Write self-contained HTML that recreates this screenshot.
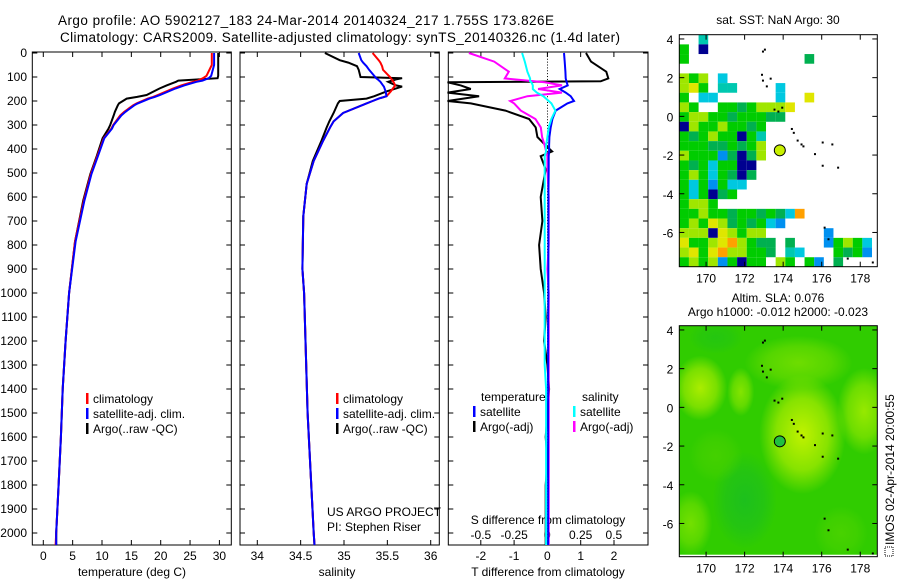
<!DOCTYPE html>
<html><head><meta charset="utf-8"><style>
body{margin:0;background:#fff}
svg{display:block;font-family:"Liberation Sans",sans-serif}
text{fill:#000}
</style></head><body>
<svg id="fig" width="900" height="580" viewBox="0 0 900 580" xmlns="http://www.w3.org/2000/svg">
<text x="58" y="25" font-size="13.5" textLength="496">Argo profile: AO 5902127_183 24-Mar-2014 20140324_217 1.755S 173.826E</text>
<text x="60" y="42" font-size="13.5" textLength="560">Climatology: CARS2009. Satellite-adjusted climatology: synTS_20140326.nc (1.4d later)</text>
<g id="layer"></g>
</svg>
<script>
// ---------- data ----------
const tDepth=[0,50,95,105,115,120,135,148,175,183,190,210,218,245,260,300,315,355,430,505,615,786,1000,1200,1400,1600,1800,2000,2050];
const tempClim=[28.7,28.7,27.8,27.2,26.3,25.5,23.5,22.1,19.5,18.7,17.8,15.9,15.3,13.8,13.1,11.9,11.6,10.3,9.2,8.1,6.9,5.4,4.4,3.8,3.3,3.0,2.6,2.2,2.1];
const tempSat=[29.1,29.1,28.6,28.2,27.1,26.1,24.0,22.5,19.9,19.0,18.1,16.1,15.5,14.0,13.3,12.0,11.7,10.4,9.3,8.2,7.0,5.5,4.4,3.8,3.3,3.0,2.6,2.2,2.2];
const tempArgo=[29.8,29.8,29.8,29.7,23.0,22.6,21.0,19.8,17.6,16.0,14.2,12.9,12.7,12.2,12.0,11.4,11.1,10.1,9.1,8.0,6.8,5.4,4.4,3.8,3.3,3.0,2.6,2.2,2.2];
const sDepth=[0,30,40,55,70,100,105,110,120,135,140,160,180,190,200,210,250,285,310,365,450,545,680,900,1000,1500,2000,2050];
const salClim=[35.33,35.40,35.42,35.44,35.45,35.53,35.54,35.55,35.57,35.59,35.58,35.54,35.49,35.40,35.33,35.26,34.99,34.88,34.84,34.76,34.65,34.57,34.53,34.52,34.54,34.58,34.65,34.66];
const salSat=[35.17,35.20,35.22,35.26,35.29,35.36,35.37,35.39,35.42,35.45,35.46,35.48,35.49,35.40,35.33,35.26,34.99,34.88,34.84,34.76,34.65,34.57,34.53,34.52,34.54,34.58,34.65,34.66];
const salArgo=[34.78,34.95,35.05,35.15,35.17,35.19,35.67,35.60,35.51,35.60,35.67,35.49,35.35,35.26,34.95,34.93,34.88,34.83,34.80,34.74,34.64,34.57,34.53,34.52,34.54,34.58,34.65,34.66];
const dDepth=[0,36,78,106,118,122,135,150,165,180,200,210,240,275,310,350,385,410,430,485,600,700,800,900,1000,1100,1200,1300,1400,1500,1600,1700,1800,1900,2000,2050];
const tdiffArgo=[1.16,1.31,1.77,1.83,1.6,-3.0,-2.6,-2.3,-3.0,-2.05,-3.0,-2.3,-1.26,-0.55,-0.35,-0.30,-0.05,0.14,-0.2,-0.05,-0.2,-0.15,-0.25,-0.2,-0.1,-0.05,-0.1,0.0,0.05,0.0,-0.05,0.0,-0.05,-0.05,-0.05,-0.05];
const tdiffSat=[0.50,0.52,0.54,0.55,0.57,0.58,0.61,0.37,0.55,0.7,0.8,0.6,0.25,0.15,0.1,0.06,0.05,0.05,0.04,0.04,0.03,0.03,0.03,0.03,0.03,0.02,0.02,0.02,0.02,0.02,0.02,0.02,0.02,0.02,0.02,0.02];
const sdiffSat=[-0.19,-0.17,-0.15,-0.13,-0.13,-0.12,-0.11,-0.11,-0.08,-0.03,0.01,0.03,0.06,0.03,0.01,0.0,-0.01,-0.01,-0.02,-0.02,-0.02,-0.02,-0.02,-0.02,-0.02,-0.02,-0.02,-0.02,-0.01,-0.01,-0.01,-0.01,-0.01,-0.01,-0.01,-0.01];
const sdiffArgo=[-0.59,-0.40,-0.29,-0.32,-0.10,-0.02,0.11,-0.07,0.11,-0.15,-0.28,-0.25,-0.2,-0.09,-0.05,-0.04,-0.02,-0.01,0.0,0.0,0.01,0.01,0.01,0.0,0.01,0.01,0.01,0.01,0.01,0.01,0.01,0.01,0.01,0.01,0.01,0.01];
const depthTicks=[0,100,200,300,400,500,600,700,800,900,1000,1100,1200,1300,1400,1500,1600,1700,1800,1900,2000];
const tempTicks=[0,5,10,15,20,25,30];
const salTicks=[34,34.5,35,35.5,36];
const tdTicks=[-2,-1,0,1,2];
const sdTicks=[-0.5,-0.25,0,0.25,0.5];
const lonTicks=[170,172,174,176,178];
const latTicks=[4,2,0,-2,-4,-6];
// SST grid rows (lat 4.2 downward, 0.5 deg), cols from lon 168.6, 0.5 deg
const sstRows=[
"..t.................",
"g.n.................",
"g............G......",
"....................",
"ygy.c...............",
"yYg.tt....c.........",
"g.cc......c..Y......",
"yg..ggGgyyyY........",
"gyyggGgggGG.........",
"nyggyggGg...........",
"gGgyggngt...........",
"gggGGgGgy...........",
"ygggbGnGy...........",
"gGgcggnn............",
"gygcgGnG............",
"gcgbgcc.............",
"gcgnGg..............",
"gyyg................",
"ggyggGggGgGco.......",
"gygYyGgGgcb.........",
"yyynYygyy......b....",
"YggyYoygGG.G...bgygc",
"yYgYoyyggG.tc...gGgb",
"gygybgngg.yg.gb.G..."];
const sstColors={g:"#00cc00",G:"#00b050",y:"#9fe600",Y:"#e0e600",o:"#ffa000",r:"#d05000",c:"#00c8e0",b:"#0090f0",n:"#000090",t:"#00c8b0"};
const coast=[[173.0,3.5],[172.9,3.4],[172.85,2.2],[172.9,1.9],[173.1,1.6],[173.3,2.0],[173.5,0.4],[173.7,0.3],[173.9,0.5],[174.4,-0.6],[174.5,-0.8],[174.7,-1.2],[174.9,-1.4],[175.0,-1.5],[175.6,-1.9],[176.0,-1.3],[176.5,-1.4],[176.0,-2.5],[176.8,-2.6],[176.1,-5.7],[176.3,-6.3],[177.3,-7.3],[178.6,-7.5]];
const argoLon=173.826, argoLat=-1.755;
const slaBlobs=[[169.7,1.0,1.0,1.2,"#b8f000",0.9],[171.8,0.8,0.5,0.9,"#a8ee00",0.7],[175.0,-1.4,1.6,2.2,"#c8f400",0.95],[178.2,-0.2,1.0,1.6,"#b0f000",0.8],[174.8,2.3,2.0,1.0,"#88e400",0.7],[169.2,-6.0,0.8,1.2,"#90e800",0.7],[172.0,-4.8,1.2,1.8,"#10b830",0.6],[170.5,3.6,1.0,0.6,"#18c020",0.5],[177.0,-6.5,1.0,1.0,"#60d800",0.5],[170.5,-2.5,1.0,1.0,"#58d400",0.5]];

// ---------- helpers ----------
const NS="http://www.w3.org/2000/svg";
const layer=document.getElementById('layer');
function el(tag,attrs,parent){const e=document.createElementNS(NS,tag);for(const k in attrs)e.setAttribute(k,attrs[k]);(parent||layer).appendChild(e);return e;}
function txt(x,y,s,size,anchor,parent){const t=el('text',{x:x,y:y,'font-size':size||12,'text-anchor':anchor||'start'},parent);t.textContent=s;return t;}
const Y0=53, YS=0.24, YB=545, YT=52;
const yD=d=>Y0+d*YS;
const xT=t=>43.3+t*5.87;
const xS=s=>257.3+(s-34)*86.7;
const xTD=v=>547.4+v*33.3;
const xSD=v=>547.4+v*133;
function line(xs,ys,xf,color,name,w){
  const pts=xs.map((v,i)=>xf(v).toFixed(1)+','+yD(ys[i]).toFixed(1)).join(' ');
  const p=el('polyline',{points:pts,fill:'none',stroke:color,'stroke-width':w||2});
  
  
}
function frame(x0,x1,name){
  const r=el('rect',{x:x0,y:YT,width:x1-x0,height:YB-YT,fill:'none',stroke:'#000','stroke-width':1});
  
  
  depthTicks.forEach(d=>{el('line',{x1:x0,x2:x0+5,y1:yD(d),y2:yD(d),stroke:'#000'});el('line',{x1:x1-5,x2:x1,y1:yD(d),y2:yD(d),stroke:'#000'});});
}
function xticks(vals,xf,x0,labels,ly,size,top){
  vals.forEach(v=>{const x=xf(v);
    el('line',{x1:x,x2:x,y1:YB,y2:YB-5,stroke:'#000'});
    if(top) el('line',{x1:x,x2:x,y1:YT,y2:YT+5,stroke:'#000'});
    if(labels){const t=txt(x,ly,String(v),size||12,'middle');}
  });
}
function legendEntry(x,y,color,label){
  const g=el('g',{});
  
  
  el('rect',{x:x,y:y-9,width:2.5,height:11,fill:color},g);
  txt(x+7,y+1,label,12,'start',g);
}

// ---------- panel 1 temperature ----------
frame(32.3,231.3,'temperature-panel');
xticks(tempTicks,xT,0,true,560,12,true);
depthTicks.forEach(d=>{const t=txt(27,yD(d)+4,String(d),12,'end');});
let t1=txt(132,576,'temperature (deg C)',12,'middle');
line(tempArgo,tDepth,xT,'#000','argo-temperature-line');
line(tempClim,tDepth,xT,'#ff0000','climatology-temperature-line');
line(tempSat,tDepth,xT,'#0000ff','satellite-temperature-line');
legendEntry(86,402,'#ff0000','climatology');
legendEntry(86,417,'#0000ff','satellite-adj. clim.');
legendEntry(86,432,'#000','Argo(..raw -QC)');

// ---------- panel 2 salinity ----------
frame(240,439.3,'salinity-panel');
xticks(salTicks,xS,0,true,560,12,true);
let t2=txt(337,576,'salinity',12,'middle');
line(salArgo,sDepth,xS,'#000','argo-salinity-line');
line(salClim,sDepth,xS,'#ff0000','climatology-salinity-line');
line(salSat,sDepth,xS,'#0000ff','satellite-salinity-line');
legendEntry(336,402,'#ff0000','climatology');
legendEntry(336,417,'#0000ff','satellite-adj. clim.');
legendEntry(336,432,'#000','Argo(..raw -QC)');
let t3=txt(327,516,'US ARGO PROJECT',12);
let t4=txt(327,531,'PI: Stephen Riser',12);

// ---------- panel 3 differences ----------
frame(448.3,648,'difference-panel');
xticks(tdTicks,xTD,0,true,560,12,false);
sdTicks.forEach(v=>{const x=xSD(v);el('line',{x1:x,x2:x,y1:YT,y2:YT+5,stroke:'#000'});const t=txt(x,539,String(v),12,'middle');});
for(let d=0;d<=2050;d+=12){el('rect',{x:547,y:yD(d),width:1,height:1,fill:'#000'});}
let t5=txt(548,576,'T difference from climatology',12,'middle');
let t6=txt(548,524,'S difference from climatology',12,'middle');
line(tdiffArgo,dDepth,xTD,'#000','argo-tdiff-line');
line(sdiffArgo,dDepth,xSD,'#ff00ff','argo-sdiff-line');
line(tdiffSat,dDepth,xTD,'#0000ff','satellite-tdiff-line');
line(sdiffSat,dDepth,xSD,'#00ffff','satellite-sdiff-line');
let t7=txt(481,401,'temperature',12);
let t8=txt(582,401,'salinity',12);
legendEntry(473,415,'#0000ff','satellite');
legendEntry(473,430,'#000','Argo(-adj)');
legendEntry(573,415,'#00ffff','satellite');
legendEntry(573,430,'#ff00ff','Argo(-adj)');

// ---------- maps ----------
const MX0=679.3,MX1=877.3,LON0=168.61,LONS=19.27,LAT0=4.22,LATS=19.35;
const mx=lon=>MX0+(lon-LON0)*LONS;
function mapFrame(top,bottom,name){
  const my=lat=>top+(LAT0-lat)*LATS;
  return my;
}
function mapAxes(top,bottom,name){
  const my=lat=>top+(LAT0-lat)*LATS;
  const r=el('rect',{x:MX0,y:top,width:MX1-MX0,height:bottom-top,fill:'none',stroke:'#000'});
  
  
  lonTicks.forEach(v=>{const x=mx(v);el('line',{x1:x,x2:x,y1:bottom,y2:bottom-5,stroke:'#000'});el('line',{x1:x,x2:x,y1:top,y2:top+5,stroke:'#000'});
    const t=txt(x,bottom+16,String(v),12,'middle');});
  latTicks.forEach(v=>{const y=my(v);el('line',{x1:MX0,x2:MX0+5,y1:y,y2:y,stroke:'#000'});el('line',{x1:MX1-5,x2:MX1,y1:y,y2:y,stroke:'#000'});
    const t=txt(MX0-6,y+5,String(v),12,'end');});
  return my;
}
function drawCoast(my,g){coast.forEach(c=>{const p=el('rect',{x:mx(c[0]),y:my(c[1]),width:2,height:2,fill:'#000'},g);});}

// map 1 SST
const top1=34.7,bot1=266.7;
const my1=lat=>top1+(LAT0-lat)*LATS;
const g1=el('g',{});


sstRows.forEach((row,j)=>{for(let i=0;i<row.length;i++){const c=row[i];if(c==='.')continue;
  const lon=LON0+i*0.5,lat=LAT0-j*0.5;
  const x0=Math.max(MX0,mx(lon)),y0=my1(lat);
  const r=el('rect',{x:x0,y:y0,width:Math.min(MX1,mx(lon+0.5))-x0,height:Math.min(bot1,my1(lat-0.5))-y0,fill:sstColors[c]},g1);
  
  
}});
drawCoast(my1,g1);
let c1=el('circle',{cx:mx(argoLon),cy:my1(argoLat),r:5.5,fill:'#c8f000',stroke:'#000','stroke-width':1});


mapAxes(top1,bot1,'sst-map-frame');
let t9=txt(778,24,'sat. SST: NaN Argo: 30',12,'middle');

// map 2 SLA
const top2=325.7,bot2=556.7;
const my2=lat=>top2+(LAT0-lat)*LATS;
const defs=el('defs',{});
const g2=el('g',{});


el('rect',{x:MX0,y:top2,width:MX1-MX0,height:bot2-top2-2,fill:'#30cc00'},g2);
el('clipPath',{id:'clip2'},defs).appendChild(Object.assign(document.createElementNS(NS,'rect'),{}));
defs.lastChild.firstChild.setAttribute('x',MX0);defs.lastChild.firstChild.setAttribute('y',top2);
defs.lastChild.firstChild.setAttribute('width',MX1-MX0);defs.lastChild.firstChild.setAttribute('height',bot2-top2-2);
const gb=el('g',{'clip-path':'url(#clip2)'},g2);
slaBlobs.forEach((b,k)=>{
  const gr=el('radialGradient',{id:'gb'+k},defs);
  el('stop',{offset:'0','stop-color':b[4],'stop-opacity':b[5]},gr);
  el('stop',{offset:'0.6','stop-color':b[4],'stop-opacity':b[5]*0.6},gr);
  el('stop',{offset:'1','stop-color':b[4],'stop-opacity':0},gr);
  const e=el('ellipse',{cx:mx(b[0]),cy:my2(b[1]),rx:b[2]*LONS*1.4,ry:b[3]*LATS*1.4,fill:'url(#gb'+k+')'},gb);
  
  
});
drawCoast(my2,g2);
let c2=el('circle',{cx:mx(argoLon),cy:my2(argoLat),r:5.5,fill:'#20c040',stroke:'#000','stroke-width':1});


mapAxes(top2,bot2,'sla-map-frame');
let t10=txt(778,302,'Altim. SLA: 0.076',12,'middle');
let t11=txt(778,316,'Argo h1000: -0.012 h2000: -0.023',12,'middle');
let t12=txt(0,0,'IMOS 02-Apr-2014 20:00:55',12,'start');
t12.setAttribute('transform','translate(894,545) rotate(-90)');


el('rect',{x:885,y:547,width:8,height:9,fill:'none',stroke:'#000','stroke-dasharray':'1,1'});
</script>
</body></html>
